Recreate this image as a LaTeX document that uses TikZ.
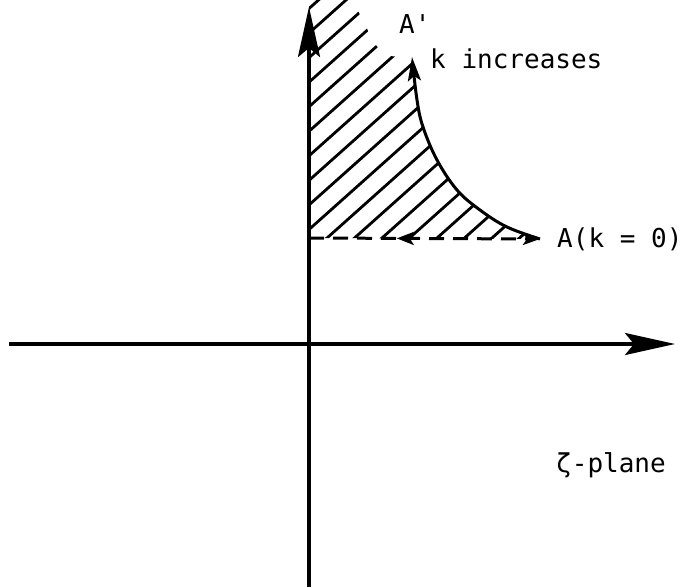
\documentclass[tikz,border=0pt]{standalone}
\usepackage{fontspec}
\newfontfamily\monofam{DejaVu Sans Mono}
\usetikzlibrary{arrows.meta,decorations.markings}
\tikzset{
  axisline/.style={line width=3.4pt,-{Stealth[length=50pt,width=22pt,inset=9pt]}},
  hatchline/.style={line width=2.8pt},
  curveline/.style={line width=3pt,-{Stealth[length=24pt,width=13pt,inset=5pt]}},
  dashline/.style={line width=3pt,dash pattern=on 15pt off 9pt,
     -{Stealth[length=17pt,width=12pt,inset=4pt]},
     postaction={decorate,decoration={markings,
       mark=at position 0.38 with {\arrowreversed[solid]{Stealth[length=17pt,width=13pt,inset=4pt]}}}}},
  lab/.style={inner sep=0pt,font=\monofam\fontsize{26}{30}\selectfont}
}
\begin{document}
\begin{tikzpicture}[x=1pt,y=-1pt]
\useasboundingbox (0,0) rectangle (686,587);
% named points
\coordinate (vb) at (309,587);
\coordinate (vt) at (309,7);
\coordinate (hl) at (9,344);
\coordinate (hr) at (675,344);
\coordinate (Ap) at (412,57);
\coordinate (A) at (540,239);
\coordinate (D) at (309,238);
% hatching
\begin{scope}
\clip (D) -- (309,0) -- (352,0) -- (364,22) -- (373,42) -- (386,56) -- (Ap)
  -- plot[smooth,tension=0.6] coordinates {(412,57) (417,100) (423,127) (437,160) (457,190) (480,210) (507,227) (540,239)} -- cycle;
\foreach \k in {-11,...,9}{
  \draw[hatchline] ({327+27.5*\k-56},288) -- ({327+27.5*\k+336},-62);
}
\end{scope}
% axes
\draw[axisline] (vb) -- (vt);
\draw[axisline] (hl) -- (hr);
% curve
\draw[curveline] plot[smooth,tension=0.6] coordinates {(540,239) (507,227) (480,210) (457,190) (437,160) (423,127) (417,100) (412,57)};
% dashed line
\draw[dashline] (D) -- (A);
% labels
\node[lab,anchor=base west] (lAp) at (399,33) {A'};
\node[lab,anchor=base west] (lk) at (430,68) {k increases};
\node[lab,anchor=base west] (lA) at (557,247) {A(k = 0)};
\node[lab,anchor=base west] (lz) at (556,472) {ζ-plane};
\end{tikzpicture}
\end{document}
